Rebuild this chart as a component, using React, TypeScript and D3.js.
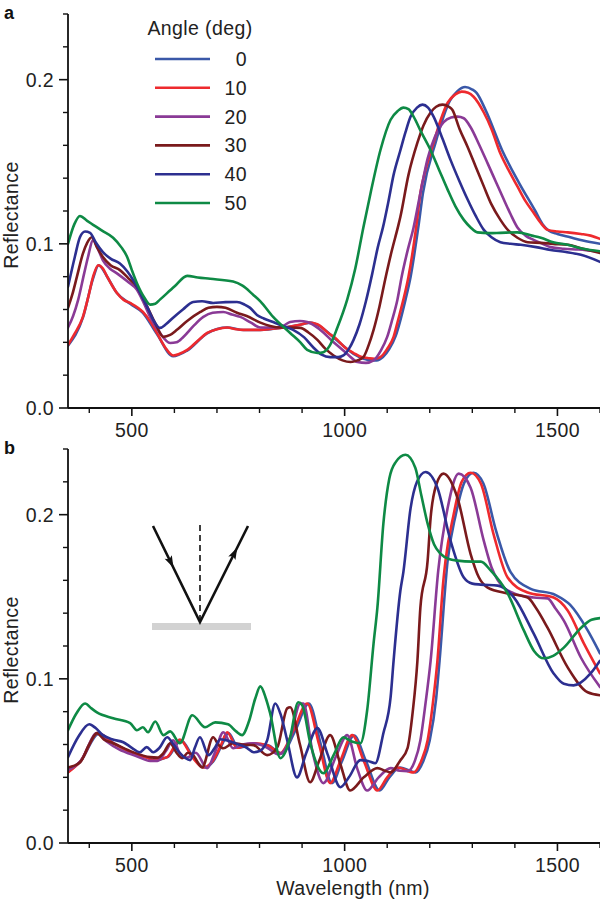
import React from 'react';
import * as d3 from 'd3';

type Pt = [number, number];

const angleLabels = ['0', '10', '20', '30', '40', '50'];
const seriesColors = ['#3a58a8', '#ee2a2e', '#8a3a96', '#7a1a1c', '#2c2f90', '#0e8a45'];

// Panel a (wavelength nm, reflectance)
const a0: Pt[] = [[350,0.038],[385,0.055],[409,0.079],[422,0.087],[442,0.080],[465,0.070],[496,0.0635],[526,0.058],[559,0.045],[597,0.0315],[630,0.035],[677,0.0455],[724,0.049],[762,0.0475],[802,0.0475],[856,0.049],[900,0.051],[920,0.052],[940,0.050],[983,0.041],[1021,0.033],[1045,0.030],[1060,0.029],[1075,0.029],[1090,0.031],[1105,0.036],[1120,0.044],[1143,0.066],[1155,0.080],[1173,0.110],[1184,0.131],[1214,0.162],[1247,0.187],[1265,0.193],[1283,0.1955],[1300,0.194],[1310,0.192],[1332,0.181],[1370,0.157],[1410,0.137],[1448,0.120],[1465,0.112],[1480,0.108],[1500,0.106],[1530,0.104],[1560,0.102],[1600,0.100]];
const a10: Pt[] = [[350,0.0384],[365,0.045],[385,0.0555],[398,0.068],[409,0.080],[421,0.087],[432,0.085],[442,0.080],[455,0.074],[465,0.070],[480,0.066],[496,0.064],[526,0.0585],[545,0.052],[559,0.0457],[578,0.037],[597,0.032],[612,0.033],[630,0.0354],[655,0.041],[677,0.0457],[700,0.048],[724,0.049],[745,0.048],[762,0.0476],[802,0.0476],[830,0.0483],[856,0.049],[880,0.050],[900,0.051],[915,0.052],[936,0.051],[960,0.046],[983,0.0415],[1000,0.037],[1021,0.0335],[1040,0.031],[1054,0.0305],[1070,0.030],[1084,0.031],[1100,0.036],[1115,0.0433],[1125,0.053],[1138,0.066],[1150,0.080],[1168,0.110],[1178,0.131],[1190,0.145],[1209,0.1616],[1225,0.175],[1242,0.186],[1260,0.191],[1275,0.1927],[1290,0.192],[1303,0.1896],[1327,0.180],[1345,0.170],[1366,0.155],[1385,0.145],[1406,0.135],[1425,0.126],[1444,0.119],[1460,0.113],[1477,0.1085],[1500,0.1075],[1524,0.107],[1555,0.106],[1578,0.105],[1600,0.103]];
const a20: Pt[] = [[350,0.049],[362,0.056],[374,0.066],[388,0.082],[397,0.092],[409,0.1024],[420,0.097],[432,0.090],[448,0.085],[465,0.082],[490,0.077],[512,0.072],[528,0.064],[543,0.0555],[565,0.046],[590,0.0396],[605,0.040],[621,0.0433],[645,0.050],[668,0.0555],[690,0.058],[715,0.0585],[735,0.057],[755,0.0555],[780,0.052],[802,0.049],[830,0.049],[855,0.050],[872,0.0524],[895,0.053],[912,0.0524],[930,0.050],[950,0.046],[970,0.041],[990,0.0366],[1010,0.032],[1030,0.028],[1050,0.0275],[1068,0.029],[1085,0.035],[1100,0.0433],[1112,0.054],[1124,0.066],[1134,0.080],[1148,0.096],[1162,0.110],[1178,0.131],[1195,0.152],[1212,0.165],[1232,0.174],[1250,0.177],[1265,0.1775],[1280,0.1765],[1296,0.171],[1315,0.161],[1336,0.149],[1355,0.138],[1374,0.127],[1390,0.118],[1406,0.110],[1425,0.105],[1444,0.1024],[1465,0.100],[1484,0.098],[1515,0.097],[1550,0.0965],[1600,0.095]];
const a30: Pt[] = [[350,0.061],[360,0.069],[371,0.080],[385,0.094],[395,0.1006],[406,0.104],[418,0.098],[432,0.092],[450,0.087],[472,0.084],[492,0.079],[512,0.0738],[528,0.066],[543,0.058],[558,0.050],[574,0.0433],[590,0.0445],[606,0.0476],[630,0.053],[661,0.0585],[680,0.061],[700,0.0616],[720,0.061],[747,0.058],[770,0.056],[802,0.052],[825,0.050],[849,0.049],[870,0.049],[896,0.0488],[915,0.046],[936,0.0415],[955,0.036],[974,0.032],[995,0.029],[1014,0.028],[1030,0.029],[1044,0.031],[1056,0.038],[1068,0.0476],[1082,0.062],[1095,0.078],[1110,0.095],[1125,0.110],[1131,0.1165],[1150,0.142],[1171,0.1616],[1185,0.172],[1202,0.180],[1215,0.1835],[1230,0.1848],[1245,0.1835],[1253,0.1817],[1270,0.170],[1289,0.159],[1308,0.147],[1327,0.135],[1345,0.124],[1366,0.1146],[1385,0.108],[1406,0.1037],[1430,0.101],[1461,0.1006],[1490,0.100],[1524,0.0994],[1560,0.097],[1600,0.0945]];
const a40: Pt[] = [[350,0.0738],[366,0.092],[378,0.104],[390,0.1075],[402,0.1067],[415,0.101],[432,0.095],[450,0.091],[472,0.088],[490,0.083],[503,0.078],[520,0.070],[536,0.0616],[552,0.053],[566,0.0488],[580,0.051],[597,0.055],[620,0.060],[644,0.0646],[665,0.065],[691,0.064],[720,0.0645],[747,0.0646],[765,0.063],[778,0.061],[794,0.0567],[810,0.0545],[832,0.0524],[855,0.050],[879,0.0476],[905,0.043],[926,0.037],[946,0.0325],[966,0.031],[985,0.031],[997,0.032],[1010,0.036],[1021,0.0415],[1035,0.051],[1050,0.065],[1065,0.082],[1078,0.098],[1090,0.110],[1103,0.126],[1115,0.142],[1131,0.157],[1143,0.168],[1155,0.1775],[1170,0.183],[1183,0.1848],[1196,0.183],[1209,0.1775],[1230,0.164],[1249,0.151],[1270,0.138],[1289,0.127],[1308,0.117],[1327,0.1085],[1345,0.104],[1366,0.101],[1390,0.100],[1414,0.0994],[1450,0.098],[1484,0.0963],[1520,0.095],[1555,0.0933],[1600,0.089]];
const a50: Pt[] = [[350,0.100],[365,0.112],[378,0.117],[395,0.114],[409,0.1116],[430,0.108],[456,0.1037],[475,0.098],[489,0.092],[500,0.084],[512,0.076],[530,0.067],[543,0.063],[555,0.0635],[566,0.066],[600,0.074],[630,0.0805],[655,0.0795],[684,0.0787],[738,0.077],[760,0.0745],[785,0.069],[802,0.065],[832,0.0555],[872,0.0457],[896,0.040],[912,0.0354],[936,0.0335],[950,0.034],[965,0.038],[983,0.049],[1006,0.066],[1025,0.085],[1044,0.110],[1061,0.131],[1084,0.157],[1108,0.1756],[1125,0.181],[1138,0.183],[1150,0.182],[1162,0.1775],[1180,0.168],[1202,0.157],[1222,0.145],[1242,0.133],[1260,0.123],[1280,0.1146],[1296,0.110],[1312,0.107],[1340,0.1065],[1366,0.1067],[1406,0.107],[1440,0.105],[1461,0.1037],[1490,0.101],[1524,0.0994],[1560,0.097],[1600,0.0955]];

// Panel b
const b0: Pt[] = [[350,0.0435],[380,0.050],[422,0.0665],[456,0.061],[500,0.055],[535,0.052],[552,0.0505],[585,0.0525],[615,0.0625],[645,0.052],[670,0.046],[692,0.050],[712,0.060],[727,0.067],[750,0.058],[788,0.0605],[820,0.0595],[852,0.0545],[884,0.0685],[916,0.085],[944,0.060],[970,0.0365],[994,0.050],[1022,0.0655],[1050,0.050],[1082,0.032],[1105,0.040],[1130,0.046],[1167,0.043],[1185,0.050],[1200,0.0626],[1215,0.088],[1223,0.111],[1242,0.172],[1261,0.200],[1282,0.220],[1303,0.2255],[1326,0.219],[1356,0.190],[1390,0.165],[1436,0.155],[1496,0.151],[1530,0.145],[1570,0.130],[1600,0.1155]];
const b10: Pt[] = [[350,0.043],[380,0.050],[420,0.0669],[456,0.0608],[500,0.055],[535,0.052],[550,0.0505],[583,0.0523],[613,0.063],[642,0.0523],[668,0.046],[690,0.050],[710,0.060],[724,0.0675],[747,0.058],[786,0.0608],[818,0.0596],[849,0.0547],[880,0.0687],[912,0.085],[940,0.060],[966,0.0365],[990,0.050],[1018,0.0657],[1045,0.050],[1077,0.032],[1100,0.040],[1124,0.046],[1162,0.043],[1180,0.050],[1195,0.0626],[1209,0.0888],[1218,0.111],[1232,0.160],[1237,0.172],[1256,0.200],[1275,0.220],[1296,0.2255],[1320,0.219],[1350,0.188],[1383,0.1617],[1430,0.1526],[1491,0.1495],[1524,0.1416],[1562,0.1216],[1600,0.1033]];
const b20: Pt[] = [[350,0.0444],[380,0.050],[418,0.0669],[440,0.062],[470,0.057],[510,0.053],[543,0.050],[560,0.050],[580,0.056],[597,0.0626],[612,0.055],[630,0.052],[650,0.055],[677,0.0456],[695,0.055],[715,0.0675],[738,0.0577],[760,0.060],[786,0.0608],[818,0.058],[845,0.054],[870,0.062],[896,0.085],[903,0.085],[925,0.055],[950,0.0365],[980,0.053],[1006,0.0657],[1030,0.045],[1053,0.032],[1080,0.040],[1108,0.0456],[1130,0.044],[1148,0.0438],[1165,0.050],[1178,0.0626],[1190,0.085],[1202,0.111],[1220,0.166],[1242,0.204],[1268,0.225],[1296,0.2164],[1327,0.184],[1345,0.168],[1360,0.160],[1398,0.152],[1444,0.1495],[1477,0.149],[1495,0.143],[1515,0.1355],[1555,0.113],[1600,0.095]];
const b30: Pt[] = [[350,0.046],[378,0.049],[400,0.060],[418,0.0669],[435,0.063],[456,0.0608],[503,0.0553],[543,0.0523],[560,0.052],[574,0.0547],[590,0.0608],[605,0.055],[618,0.0517],[632,0.055],[644,0.0535],[665,0.046],[691,0.0644],[703,0.060],[715,0.0577],[738,0.0608],[760,0.060],[786,0.0596],[818,0.0535],[842,0.0584],[865,0.082],[872,0.0827],[895,0.060],[919,0.037],[940,0.050],[966,0.0657],[990,0.048],[1013,0.032],[1045,0.040],[1077,0.0456],[1095,0.044],[1108,0.043],[1130,0.050],[1148,0.058],[1160,0.080],[1171,0.111],[1178,0.1435],[1195,0.172],[1202,0.198],[1215,0.218],[1232,0.225],[1265,0.2103],[1296,0.176],[1315,0.162],[1336,0.1556],[1383,0.152],[1430,0.1495],[1450,0.143],[1477,0.131],[1524,0.107],[1571,0.0918],[1600,0.090]];
const b40: Pt[] = [[350,0.0523],[375,0.065],[400,0.0723],[415,0.070],[432,0.0657],[455,0.063],[480,0.0614],[500,0.058],[519,0.0553],[535,0.0584],[550,0.0553],[565,0.058],[583,0.0644],[598,0.060],[613,0.0547],[637,0.0505],[648,0.058],[660,0.0644],[680,0.0535],[695,0.058],[708,0.0632],[730,0.062],[755,0.0596],[770,0.058],[786,0.0553],[800,0.056],[818,0.0626],[837,0.085],[850,0.078],[865,0.0626],[888,0.040],[910,0.055],[936,0.070],[960,0.054],[990,0.034],[1010,0.040],[1037,0.0505],[1055,0.050],[1072,0.0486],[1091,0.0669],[1108,0.0888],[1115,0.111],[1131,0.1538],[1138,0.165],[1155,0.204],[1170,0.220],[1190,0.226],[1218,0.2164],[1249,0.184],[1280,0.1617],[1300,0.158],[1320,0.1574],[1360,0.1568],[1398,0.1495],[1444,0.1277],[1491,0.1033],[1515,0.097],[1538,0.096],[1578,0.1033],[1600,0.111]];
const b50: Pt[] = [[350,0.0687],[370,0.079],[390,0.085],[405,0.082],[418,0.0796],[456,0.076],[496,0.073],[512,0.0687],[526,0.0705],[538,0.0675],[555,0.074],[574,0.0657],[590,0.068],[613,0.0608],[642,0.0778],[672,0.0705],[696,0.0735],[726,0.0723],[745,0.068],[759,0.0657],[775,0.074],[790,0.088],[802,0.0954],[815,0.088],[825,0.079],[849,0.0517],[860,0.055],[872,0.0644],[891,0.0857],[900,0.084],[920,0.060],[950,0.0425],[975,0.054],[997,0.0644],[1015,0.062],[1037,0.0608],[1053,0.081],[1068,0.1216],[1077,0.1435],[1091,0.1945],[1105,0.222],[1120,0.232],[1143,0.2365],[1166,0.2286],[1180,0.212],[1195,0.1945],[1210,0.182],[1225,0.1763],[1245,0.173],[1265,0.172],[1300,0.1714],[1320,0.1714],[1343,0.166],[1383,0.152],[1421,0.1295],[1445,0.117],[1468,0.1125],[1490,0.114],[1515,0.119],[1555,0.131],[1580,0.136],[1600,0.137]];

const panelASeries = [a0, a10, a20, a30, a40, a50];
const panelBSeries = [b0, b10, b20, b30, b40, b50];

const yMajorTicks = [0, 0.1, 0.2];
const yMinorTicks = [0.02, 0.04, 0.06, 0.08, 0.12, 0.14, 0.16, 0.18, 0.22, 0.24];
const xMajorTicks = [500, 1000, 1500];
const xMinorTicks = [400, 600, 700, 800, 900, 1100, 1200, 1300, 1400, 1600];

const FONT = "'Liberation Sans', Arial, Helvetica, sans-serif";
const FS = 19.5;
const txt = { fontSize: FS, fontFamily: FONT, fill: '#222', letterSpacing: '0.4px' } as const;

const X0 = 68;
const X1 = 600;

function Panel({ series, top, bottom, label }: { series: Pt[][]; top: number; bottom: number; label: string }) {
  const x = d3.scaleLinear().domain([350, 1600]).range([X0, X1]);
  const y = d3.scaleLinear().domain([0, 0.24]).range([bottom, top]);
  const line = d3.line<Pt>().x(d => x(d[0])).y(d => y(d[1])).curve(d3.curveMonotoneX);
  const clipId = 'clip-' + label;
  return (
    <g>
      <defs>
        <clipPath id={clipId}>
          <rect x={X0} y={top - 5} width={X1 - X0} height={bottom - top + 5} />
        </clipPath>
      </defs>
      <g clipPath={`url(#${clipId})`}>
        {series.map((s, i) => (
          <path key={i} d={line(s) || ''} fill="none" stroke={seriesColors[i]} strokeWidth={2.6} strokeLinejoin="round" strokeLinecap="round" />
        ))}
      </g>
      <line x1={X0} x2={X0} y1={top} y2={bottom} stroke="#111" strokeWidth={1.8} />
      {yMajorTicks.map(t => (
        <g key={'ym' + t}>
          <line x1={X0 - 9} x2={X0} y1={y(t)} y2={y(t)} stroke="#111" strokeWidth={1.6} />
          <text x={54} y={y(t)} dy="0.36em" textAnchor="end" style={txt}>{t.toFixed(1)}</text>
        </g>
      ))}
      {yMinorTicks.map(t => (
        <line key={'yn' + t} x1={X0 - 5} x2={X0} y1={y(t)} y2={y(t)} stroke="#111" strokeWidth={1.4} />
      ))}
      <line x1={X0} x2={X1} y1={bottom} y2={bottom} stroke="#111" strokeWidth={1.8} />
      {xMajorTicks.map(t => (
        <g key={'xm' + t}>
          <line x1={x(t)} x2={x(t)} y1={bottom} y2={bottom + 8} stroke="#111" strokeWidth={1.6} />
          <text x={x(t)} y={bottom + 29} textAnchor="middle" style={txt}>{t}</text>
        </g>
      ))}
      {xMinorTicks.map(t => (
        <line key={'xn' + t} x1={x(t)} x2={x(t)} y1={bottom} y2={bottom + 5} stroke="#111" strokeWidth={1.4} />
      ))}
      <text transform={`translate(18,${(top + bottom) / 2 + 4}) rotate(-90)`} textAnchor="middle" style={txt}>Reflectance</text>
      <text x={4} y={top + 5} fontSize={18} fontWeight="bold" fontFamily={FONT} fill="#111">{label}</text>
    </g>
  );
}

function Legend() {
  const rows = angleLabels.map((a, i) => ({ a, c: seriesColors[i], y: 59 + i * 28.8 }));
  return (
    <g>
      <text x={200} y={35} textAnchor="middle" style={txt}>Angle (deg)</text>
      {rows.map(r => (
        <g key={r.a}>
          <line x1={155} x2={210} y1={r.y} y2={r.y} stroke={r.c} strokeWidth={2.6} />
          <text x={247} y={r.y} dy="0.36em" textAnchor="end" style={txt}>{r.a}</text>
        </g>
      ))}
    </g>
  );
}

function arrowHead(x: number, y: number, dx: number, dy: number) {
  const len = Math.hypot(dx, dy);
  const ux = dx / len, uy = dy / len;
  const px = -uy, py = ux;
  const L = 12, W = 4;
  const tip = [x + ux * L * 0.5, y + uy * L * 0.5];
  const b1 = [x - ux * L * 0.5 + px * W, y - uy * L * 0.5 + py * W];
  const b2 = [x - ux * L * 0.3, y - uy * L * 0.3];
  const b3 = [x - ux * L * 0.5 - px * W, y - uy * L * 0.5 - py * W];
  return `M${tip[0]},${tip[1]}L${b1[0]},${b1[1]}L${b2[0]},${b2[1]}L${b3[0]},${b3[1]}Z`;
}

function Inset() {
  const vx = 200, vy = 622;
  const lx = 153, ly = 526;
  const rx = 248, ry = 526;
  return (
    <g>
      <rect x={152} y={623} width={99} height={7} fill="#d2d2d2" />
      <line x1={vx} x2={vx} y1={525} y2={620} stroke="#111" strokeWidth={1.6} strokeDasharray="6,4" />
      <path d={`M${lx},${ly}L${vx},${vy}L${rx},${ry}`} fill="none" stroke="#111" strokeWidth={2.6} strokeLinejoin="miter" />
      <path d={arrowHead(lx + (vx - lx) * 0.38, ly + (vy - ly) * 0.38, vx - lx, vy - ly)} fill="#111" />
      <path d={arrowHead(vx + (rx - vx) * 0.72, vy + (ry - vy) * 0.72, rx - vx, ry - vy)} fill="#111" />
    </g>
  );
}

export default function App() {
  return (
    <svg width={600} height={905} viewBox="0 0 600 905" style={{ position: 'absolute', left: 0, top: 0, background: '#fff' }}>
      <rect x={0} y={0} width={600} height={905} fill="#fff" />
      <Panel series={panelASeries} top={14} bottom={408} label="a" />
      <Legend />
      <Panel series={panelBSeries} top={449} bottom={843} label="b" />
      <Inset />
      <text x={353} y={895} textAnchor="middle" style={txt}>Wavelength (nm)</text>
    </svg>
  );
}
